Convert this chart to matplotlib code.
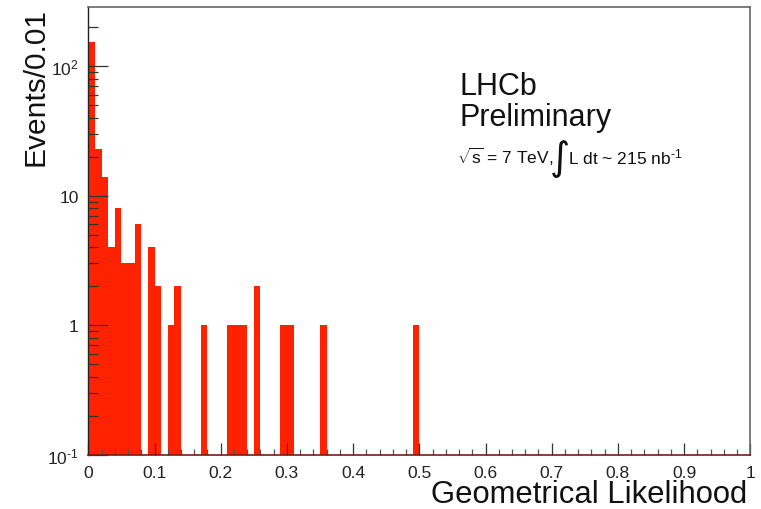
import numpy as np
import matplotlib
matplotlib.use('Agg')
import matplotlib.pyplot as plt
from matplotlib.ticker import FixedLocator, MultipleLocator, FuncFormatter, LogLocator, NullFormatter

plt.rcParams['font.family'] = ['Liberation Sans', 'DejaVu Sans']
plt.rcParams['mathtext.fontset'] = 'custom'
plt.rcParams['mathtext.rm'] = 'Liberation Sans'
plt.rcParams['mathtext.it'] = 'Liberation Sans:italic'
plt.rcParams['mathtext.bf'] = 'Liberation Sans:bold'

# Geometrical likelihood histogram, bin width 0.01 on [0, 1]
bin_edges = np.round(np.arange(0, 1.0001, 0.01), 2)
counts = np.zeros(100)
filled_bins = [0, 1, 2, 3, 4, 5, 6, 7, 9, 10, 12, 13, 17, 21, 22, 23, 25, 29, 30, 35, 49]
filled_counts = [152, 23, 14, 4, 8, 3, 3, 6, 4, 2, 1, 2, 1, 1, 1, 1, 2, 1, 1, 1, 1]
counts[filled_bins] = filled_counts

x_ticks = [0, 0.1, 0.2, 0.3, 0.4, 0.5, 0.6, 0.7, 0.8, 0.9, 1]
y_ticks = [0.1, 1, 10, 100]
y_tick_labels = [r'$10^{\text{-}1}$', '1', '10', r'$10^{2}$']

fig = plt.figure(figsize=(7.61, 5.10), dpi=100)
ax = fig.add_axes([88.3 / 761, (510 - 455.7) / 510, 662 / 761, 447.4 / 510])

ax.bar(bin_edges[:-1], counts, width=0.01, align='edge', color='#ff2200',
       edgecolor='none', linewidth=0)

ax.set_yscale('log')
ax.set_xlim(0, 1)
ax.set_ylim(0.1, 284)

# ROOT-style inward ticks on the bottom and left axes only
ax.xaxis.set_major_locator(FixedLocator(x_ticks))
ax.xaxis.set_minor_locator(MultipleLocator(0.02))
ax.xaxis.set_major_formatter(FuncFormatter(lambda v, p: '0' if v == 0 else ('1' if v == 1 else f'{v:.1f}')))
ax.yaxis.set_major_locator(FixedLocator(y_ticks))
ax.set_yticklabels(y_tick_labels)
ax.yaxis.set_minor_locator(LogLocator(base=10, subs=np.arange(2, 10)))
ax.yaxis.set_minor_formatter(NullFormatter())

ax.tick_params(axis='x', which='major', direction='in', length=8.5, width=0.9,
               color='#333333', labelsize=12.5, pad=7.5, labelcolor='#222222')
ax.tick_params(axis='x', which='minor', direction='in', length=4, width=0.9, color='#555555')
ax.tick_params(axis='y', which='major', direction='in', length=14.4, width=0.9,
               color='#333333', labelsize=12.5, pad=7, labelcolor='#222222')
ax.tick_params(axis='y', which='minor', direction='in', length=7.2, width=0.9, color='#333333')

for side in ['top', 'right']:
    ax.spines[side].set_color('#666666')
    ax.spines[side].set_linewidth(1.2)
ax.spines['left'].set_color('#222222')
ax.spines['bottom'].set_color('#7a1a1a')
ax.spines['left'].set_linewidth(1.0)
ax.spines['bottom'].set_linewidth(1.2)

ax.set_xlabel('Geometrical Likelihood', fontsize=22.3, loc='right', color='#111111')
ax.xaxis.set_label_coords(0.996, -0.1064)
ax.xaxis.label.set_verticalalignment('baseline')

ax.set_ylabel('Events/0.01', fontsize=21.5, loc='top', color='#111111')
ax.yaxis.set_label_coords(-0.0684, 1.0)
ax.yaxis.label.set_verticalalignment('baseline')

# Experiment label and luminosity line
ax.text(0.561, 0.806, 'LHCb', transform=ax.transAxes, fontsize=22, va='baseline', color='#111111')
ax.text(0.561, 0.736, 'Preliminary', transform=ax.transAxes, fontsize=22, va='baseline', color='#111111')
ax.text(0.5565, 0.6513, r'$\sqrt{\mathrm{s}}$ = 7 TeV,', transform=ax.transAxes,
        fontsize=12.5, va='baseline', color='#111111')
ax.text(0.697, 0.638, '\u222b', transform=ax.transAxes, fontsize=28,
        va='baseline', color='#111111', family='DejaVu Sans')
ax.text(0.7245, 0.6513, r'L dt ~ 215 nb$^{\text{-}1}$', transform=ax.transAxes,
        fontsize=12.5, va='baseline', color='#111111')

fig.savefig('out.png', dpi=100)
